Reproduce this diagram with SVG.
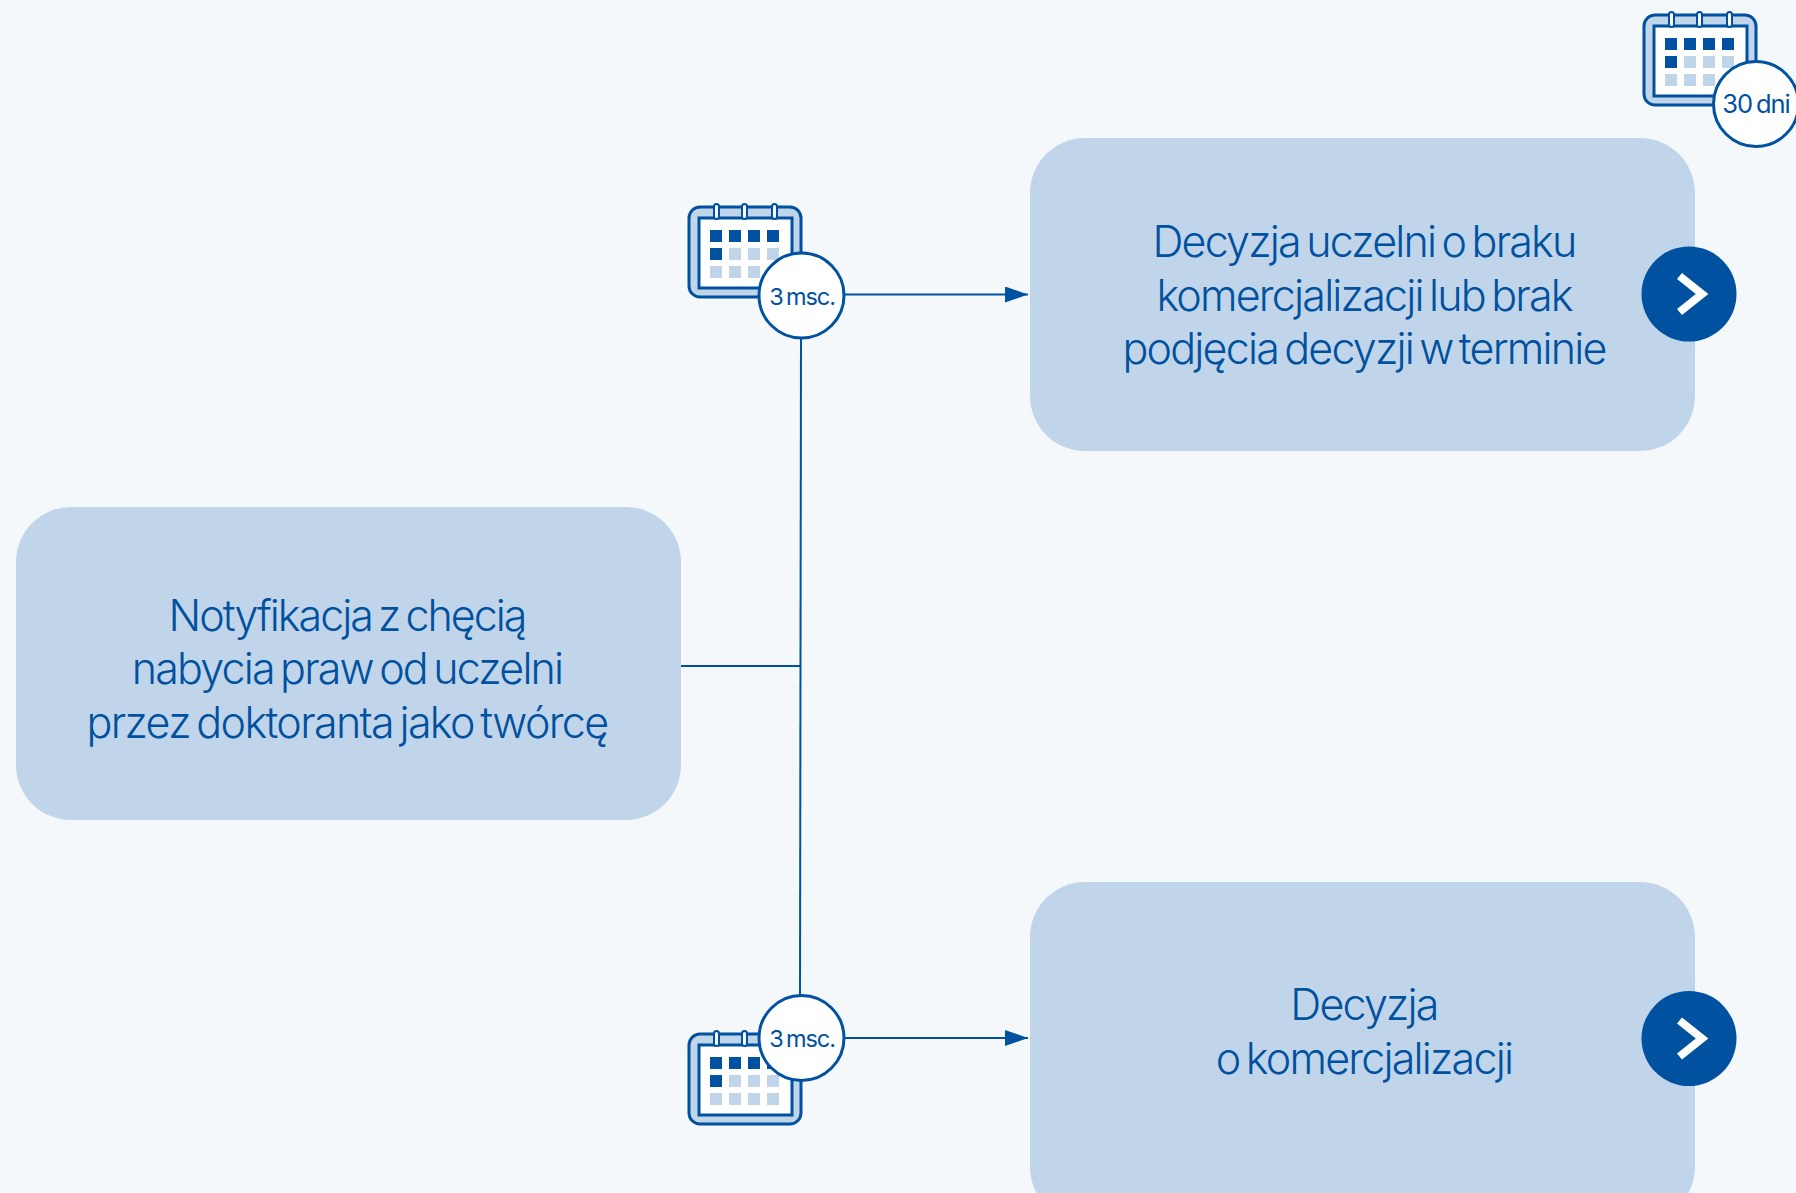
<svg xmlns="http://www.w3.org/2000/svg" width="1796" height="1193" viewBox="0 0 1796 1193">
<style>
.box{fill:#c1d5ea}
.t{font-family:"Inter","Liberation Sans",sans-serif;font-size:43px;font-weight:300;fill:#00519f;text-anchor:middle;letter-spacing:-1.8px;word-spacing:-4px}
.b{font-family:"Inter","Liberation Sans",sans-serif;font-size:23.500px;font-weight:400;fill:#00519f;text-anchor:middle;letter-spacing:-1.1px;word-spacing:-2px}
.w{font-size:25.500px}
.n{letter-spacing:-2px}
.x{letter-spacing:-1.650px}
.c{fill:none;stroke:#00519f;stroke-width:2}
.o{fill:#fff;stroke:#00519f;stroke-width:3}
.d{fill:#00519f}.l{fill:#c1d5ea}
</style>
<defs>
<marker id="a" markerUnits="userSpaceOnUse" markerWidth="23" markerHeight="16" refX="23" refY="8" orient="auto"><path d="M0 0L23 8L0 16Z" fill="#00519f"/></marker>
<symbol id="cal" overflow="visible">
<rect x="0" y="0" width="112" height="90" rx="11" fill="#c1d5ea" stroke="#00519f" stroke-width="3"/>
<rect x="10" y="11" width="93" height="70" fill="#fff" stroke="#00519f" stroke-width="3"/>
<g stroke="#00519f" stroke-width="2" fill="#fff"><rect x="25" y="-3" width="5" height="15" rx="2.500"/><rect x="53" y="-3" width="5" height="15" rx="2.500"/><rect x="83" y="-3" width="5" height="15" rx="2.500"/></g>
<g class="d"><rect x="21" y="23" width="12" height="12"/><rect x="40" y="23" width="12" height="12"/><rect x="59" y="23" width="12" height="12"/><rect x="78" y="23" width="12" height="12"/><rect x="21" y="41" width="12" height="12"/></g>
<g class="l"><rect x="40" y="41" width="12" height="12"/><rect x="59" y="41" width="12" height="12"/><rect x="78" y="41" width="12" height="12"/><rect x="21" y="59" width="12" height="12"/><rect x="40" y="59" width="12" height="12"/><rect x="59" y="59" width="12" height="12"/><rect x="78" y="59" width="12" height="12"/></g>
</symbol>
</defs>
<rect width="1796" height="1193" fill="#f4f8fb"/>
<g id="connectors">
<path class="c" d="M680 666H800"/>
<path class="c" d="M801 338L800 996"/>
<path class="c" d="M845 294.500H1028" marker-end="url(#a)"/>
<path class="c" d="M845 1038H1028" marker-end="url(#a)"/>
</g>
<g id="node-notyfikacja">
<rect class="box" x="16" y="507" width="665" height="313" rx="55"/>
<text class="t n" x="347" y="630.500">Notyfikacja z chęcią</text>
<text class="t" x="347" y="684">nabycia praw od uczelni</text>
<text class="t x" x="347" y="737.500">przez doktoranta jako twórcę</text>
</g>
<g id="node-brak">
<rect class="box" x="1030" y="138" width="665" height="313" rx="55"/>
<text class="t" x="1364" y="257">Decyzja uczelni o braku</text>
<text class="t" x="1364" y="311">komercjalizacji lub brak</text>
<text class="t" x="1364" y="363.500">podjęcia decyzji w terminie</text>
<circle class="d" cx="1689" cy="294" r="47.500"/>
<path d="M1679.500 276L1702 294L1679.500 312" fill="none" stroke="#fff" stroke-width="8"/>
</g>
<g id="node-decyzja">
<rect class="box" x="1030" y="882" width="665" height="340" rx="55"/>
<text class="t" x="1364" y="1020">Decyzja</text>
<text class="t" x="1364" y="1074">o komercjalizacji</text>
<circle class="d" cx="1689" cy="1038.500" r="47.500"/>
<path d="M1679.500 1020.500L1702 1038.500L1679.500 1056.500" fill="none" stroke="#fff" stroke-width="8"/>
</g>
<g id="term-top">
<use href="#cal" x="689" y="207"/>
<circle class="o" cx="801.500" cy="295.500" r="42.500"/>
<text class="b" x="802" y="305">3 msc.</text>
</g>
<g id="term-bottom">
<use href="#cal" x="689" y="1034"/>
<circle class="o" cx="801.500" cy="1038" r="42.500"/>
<text class="b" x="802" y="1047">3 msc.</text>
</g>
<g id="term-30">
<use href="#cal" x="1644" y="15"/>
<circle class="o" cx="1756" cy="104" r="42.500"/>
<text class="b w" x="1756" y="113">30 dni</text>
</g>
</svg>
